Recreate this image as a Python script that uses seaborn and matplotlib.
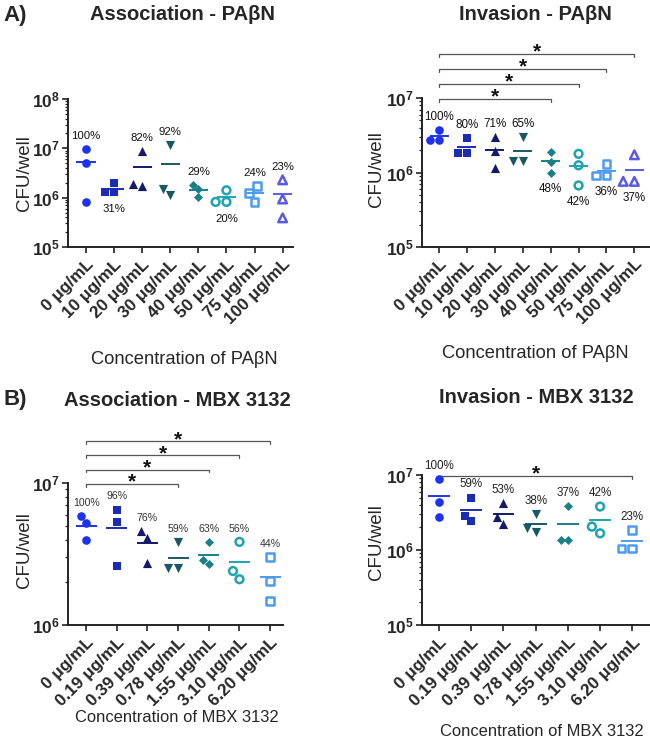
import numpy as np
import pandas as pd
import seaborn as sns
import matplotlib.pyplot as plt
import matplotlib.transforms as mtransforms
from matplotlib.ticker import LogLocator, NullFormatter, FixedLocator

# -----------------------
# Data (CFU/well, triplicates)
# -----------------------
pab_conc = ["0 μg/mL", "10 μg/mL", "20 μg/mL", "30 μg/mL",
            "40 μg/mL", "50 μg/mL", "75 μg/mL", "100 μg/mL"]
mbx_conc = ["0 μg/mL", "0.19 μg/mL", "0.39 μg/mL", "0.78 μg/mL",
            "1.55 μg/mL", "3.10 μg/mL", "6.20 μg/mL"]

assoc_pab = [[9.7e6, 5.0e6, 8.2e5], [2.0e6, 1.29e6, 1.29e6], [8.9e6, 1.74e6, 1.9e6],
             [1.18e7, 1.15e6, 1.5e6], [1.82e6, 1.02e6, 1.5e6], [1.41e6, 8.2e5, 8.2e5],
             [1.7e6, 1.23e6, 8.2e5], [2.3e6, 9.4e5, 3.9e5]]
assoc_pab_pct = ["100%", "31%", "82%", "92%", "29%", "20%", "24%", "23%"]
assoc_pab_side = ["up", "down", "up", "up", "up", "down", "up", "up"]

inv_pab = [[3.7e6, 2.7e6, 2.75e6], [2.9e6, 1.8e6, 1.8e6], [3.0e6, 1.95e6, 1.15e6],
           [3.0e6, 1.41e6, 1.41e6], [1.9e6, 1.4e6, 1.0e6], [1.78e6, 1.25e6, 6.7e5],
           [1.3e6, 9.1e5, 9.1e5], [1.73e6, 7.6e5, 7.6e5]]
inv_pab_pct = ["100%", "80%", "71%", "65%", "48%", "42%", "36%", "37%"]
inv_pab_side = ["up", "up", "up", "up", "down", "down", "down", "down"]
inv_pab_sig = [4, 5, 6, 7]

assoc_mbx = [[5.86e6, 5.2e6, 3.95e6], [6.5e6, 5.3e6, 2.6e6], [4.57e6, 4.1e6, 2.74e6],
             [3.85e6, 2.53e6, 2.53e6], [3.83e6, 2.86e6, 2.7e6], [3.85e6, 2.4e6, 2.1e6],
             [3.02e6, 2.04e6, 1.48e6]]
assoc_mbx_pct = ["100%", "96%", "76%", "59%", "63%", "56%", "44%"]
assoc_mbx_sig = [3, 4, 5, 6]

inv_mbx = [[8.8e6, 4.4e6, 2.78e6], [5.0e6, 2.87e6, 2.4e6], [4.2e6, 2.73e6, 2.22e6],
           [3.02e6, 1.94e6, 1.72e6], [3.86e6, 1.36e6, 1.36e6], [3.8e6, 2.05e6, 1.67e6],
           [1.85e6, 1.05e6, 1.05e6]]
inv_mbx_pct = ["100%", "59%", "53%", "38%", "37%", "42%", "23%"]
inv_mbx_sig = [6]

# -----------------------
# Style
# -----------------------
colors = ["#1c32ee", "#1a2cb4", "#15196c", "#185866", "#1a8088",
          "#1fa3b0", "#4c9cf2", "#5a5ae6"]
markers = ["o", "s", "^", "v", "D", "o", "s", "^"]
sizes = [6.2, 6.0, 6.6, 6.6, 4.6, 5.6, 5.6, 6.2]
hollow = [False, False, False, False, False, True, True, True]

sns.set_style("ticks")
plt.rcParams["font.family"] = ["Liberation Sans", "DejaVu Sans"]
plt.rcParams["mathtext.fontset"] = "custom"
plt.rcParams["mathtext.rm"] = "Liberation Sans"
plt.rcParams["mathtext.bf"] = "Liberation Sans:bold"

W, H = 650, 740
fig = plt.figure(figsize=(W / 100, H / 100), dpi=100)


def px_rect(left, top, right, bottom):
    return [left / W, 1 - bottom / H, (right - left) / W, (bottom - top) / H]


def ftext(x, y, s, **kw):
    fig.text(x / W, 1 - y / H, s, ha="center", va="center", **kw)


def panel(rect, cats, values, pct, side, ylim, xlim, sig, pct_size, pct_color):
    ax = fig.add_axes(rect)
    df = pd.DataFrame({"conc": np.repeat(cats, 3),
                       "cfu": np.concatenate(values)})
    ax.set_yscale("log")
    ax.set_ylim(*ylim)
    for i, c in enumerate(cats):
        sub = df[df["conc"] == c]
        n_before = len(ax.collections)
        sns.swarmplot(data=sub, x="conc", y="cfu", order=cats, marker=markers[i],
                      color=colors[i], size=sizes[i], log_scale=True, ax=ax)
        if hollow[i]:
            for coll in ax.collections[n_before:]:
                coll.set_facecolor("none")
                coll.set_edgecolor(colors[i])
                coll.set_linewidth(1.8)
    means = df.groupby("conc", sort=False)["cfu"].mean().reindex(cats)
    pos = np.arange(len(cats))
    ax.hlines(means.values, pos - 0.34, pos + 0.34, colors=colors[:len(cats)], lw=1.4)

    for i, c in enumerate(cats):
        vals = df.loc[df["conc"] == c, "cfu"]
        if side[i] == "up":
            ax.annotate(pct[i], (i, vals.max()), xytext=(0, 9.5), textcoords="offset points",
                        ha="center", va="center", fontsize=pct_size, color=pct_color)
        else:
            ax.annotate(pct[i], (i, vals.min()), xytext=(0, -12), textcoords="offset points",
                        ha="center", va="center", fontsize=pct_size, color=pct_color)

    trans = mtransforms.blended_transform_factory(ax.transData, ax.transAxes)
    for k, t in enumerate(sig):
        lev = 0.995 + 0.1 * k
        ax.plot([0, 0, t, t], [lev - 0.02, lev, lev, lev - 0.02], transform=trans,
                clip_on=False, color="#555555", lw=0.9)
        ax.text(t / 2, lev + 0.012, "*", transform=trans, ha="center", va="center",
                fontsize=15, fontweight="bold", color="#111111")

    ax.set_xlim(*xlim)
    ax.set_xticks(pos)
    ax.set_xticklabels(cats, rotation=45, ha="right", rotation_mode="anchor",
                       fontweight="bold", fontsize=12.3)
    lo, hi = [int(round(np.log10(v))) for v in ylim]
    decades = [10.0 ** e for e in range(lo, hi + 1)]
    ax.yaxis.set_major_locator(FixedLocator(decades))
    ax.set_yticklabels([r"$\mathbf{10^{%d}}$" % e for e in range(lo, hi + 1)], fontsize=12.5)
    ax.yaxis.set_minor_locator(LogLocator(base=10, subs=np.arange(2, 10)))
    ax.yaxis.set_minor_formatter(NullFormatter())
    ax.set_xlabel("")
    ax.set_ylabel("")
    sns.despine(ax=ax)
    for s in ["left", "bottom"]:
        ax.spines[s].set_linewidth(1.4)
        ax.spines[s].set_color("#222222")
    ax.tick_params(axis="both", which="major", length=4, width=1.2, color="#222222", pad=2)
    ax.tick_params(axis="y", which="minor", length=2.5, width=0.9, color="#222222")
    ax.tick_params(axis="x", pad=3)
    return ax


# -----------------------
# Panels
# -----------------------
panel(px_rect(68, 99, 293, 247), pab_conc, assoc_pab, assoc_pab_pct, assoc_pab_side,
      (1e5, 1e8), (-0.64, 7.37), [], 8.2, "#111111")
panel(px_rect(422, 98, 650, 247), pab_conc, inv_pab, inv_pab_pct, inv_pab_side,
      (1e5, 1e7), (-0.61, 7.56), inv_pab_sig, 8.4, "#111111")
panel(px_rect(68, 483, 283, 625), mbx_conc, assoc_mbx, assoc_mbx_pct, ["up"] * 7,
      (1e6, 1e7), (-0.59, 6.42), assoc_mbx_sig, 7.6, "#333333")
panel(px_rect(422, 475, 650, 625), mbx_conc, inv_mbx, inv_mbx_pct, ["up"] * 7,
      (1e5, 1e7), (-0.53, 6.55), inv_mbx_sig, 8.4, "#222222")

# -----------------------
# Titles and labels
# -----------------------
ftext(15, 16, "A)", fontsize=16, fontweight="bold")
ftext(15, 400, "B)", fontsize=16, fontweight="bold")
ftext(182, 15, "Association - PAβN", fontsize=14.5, fontweight="bold")
ftext(535, 15, "Invasion - PAβN", fontsize=14.5, fontweight="bold")
ftext(177, 400, "Association - MBX 3132", fontsize=14.5, fontweight="bold")
ftext(536, 398, "Invasion - MBX 3132", fontsize=14.5, fontweight="bold")

ftext(184, 360, "Concentration of PAβN", fontsize=13.2)
ftext(535, 353, "Concentration of PAβN", fontsize=13.2)
ftext(177, 718, "Concentration of MBX 3132", fontsize=11.9)
ftext(542, 731, "Concentration of MBX 3132", fontsize=11.9)

ftext(25, 173, "CFU/well", fontsize=13.5, rotation=90)
ftext(377, 169, "CFU/well", fontsize=13.5, rotation=90)
ftext(25, 550, "CFU/well", fontsize=13.5, rotation=90)
ftext(377, 542, "CFU/well", fontsize=13.5, rotation=90)

plt.savefig("out.png", dpi=100)
